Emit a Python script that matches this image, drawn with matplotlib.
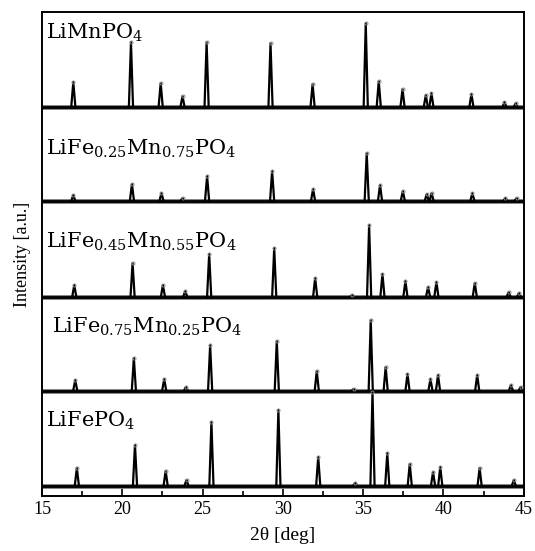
import matplotlib
matplotlib.use('Agg')
import matplotlib.pyplot as plt
import numpy as np
from matplotlib.ticker import MultipleLocator

plt.rcParams['font.family'] = 'Liberation Serif'
plt.rcParams['mathtext.fontset'] = 'dejavuserif'

# peak positions (2theta, deg) and heights (a.u.)
mn_pos = [16.95, 20.54, 22.39, 23.75, 25.25, 29.23, 31.85, 35.16, 35.97, 37.45, 38.9, 39.25, 41.74, 43.8, 44.5]
mn_h = [25, 65, 24, 11, 65, 64, 23, 84, 26, 18, 12, 14, 13, 5, 4]

fe25_pos = [16.95, 20.6, 22.44, 23.75, 25.28, 29.33, 31.88, 35.22, 36.05, 37.47, 38.96, 39.26, 41.8, 43.85, 44.55]
fe25_h = [6, 17, 8, 3, 25, 30, 12, 48, 16, 10, 7, 8, 8, 3, 3]

fe45_pos = [17.01, 20.64, 22.53, 23.92, 25.41, 29.46, 32.01, 34.3, 35.37, 36.2, 37.63, 39.04, 39.56, 41.95, 44.06, 44.7]
fe45_h = [12, 34, 12, 6, 43, 49, 19, 2, 72, 23, 16, 10, 15, 14, 5, 4]

fe75_pos = [17.07, 20.72, 22.61, 23.96, 25.47, 29.62, 32.11, 34.4, 35.47, 36.4, 37.76, 39.19, 39.66, 42.1, 44.2, 44.8]
fe75_h = [11, 33, 12, 4, 46, 50, 20, 2, 71, 24, 17, 12, 16, 16, 6, 4]

fe_pos = [17.17, 20.79, 22.7, 24.0, 25.55, 29.72, 32.2, 34.5, 35.58, 36.5, 37.9, 39.35, 39.8, 42.25, 44.38]
fe_h = [18, 41, 15, 6, 64, 76, 29, 3, 94, 33, 22, 14, 19, 18, 6]

labels = ['LiMnPO$_4$',
          'LiFe$_{0.25}$Mn$_{0.75}$PO$_4$',
          'LiFe$_{0.45}$Mn$_{0.55}$PO$_4$',
          'LiFe$_{0.75}$Mn$_{0.25}$PO$_4$',
          'LiFePO$_4$']

series = [(mn_pos, mn_h), (fe25_pos, fe25_h), (fe45_pos, fe45_h),
          (fe75_pos, fe75_h), (fe_pos, fe_h)]

# vertical offsets of the stacked patterns and label anchors
offsets = [389, 295, 199, 105, 10]
label_xy = [(15.25, 457), (15.25, 341), (15.25, 248), (15.62, 163), (15.25, 69)]

w = 0.13  # half base of a peak, deg

fig = plt.figure(figsize=(5.35, 5.51), dpi=100)
ax = fig.add_axes([0.0785, 0.1, 0.9005, 0.878])

for (pos, h), off, lab, (lx, ly) in zip(series, offsets, labels, label_xy):
    ax.plot([15, 45], [off, off], color='0.45', lw=3.4, solid_capstyle='butt', zorder=2)
    ax.plot([15, 45], [off, off], color='black', lw=2.0, solid_capstyle='butt', zorder=3)
    for p, hh in zip(pos, h):
        xs = [p - w, p, p + w]
        ys = [off, off + hh, off]
        ax.plot(xs, ys, color='black', lw=1.6, zorder=3)
        ax.plot([p], [off + hh], 'o', ms=2.2, mfc='none', mec='0.55', mew=0.7, zorder=4)
    ax.text(lx, ly, lab, family='DejaVu Serif', fontsize=15, va='baseline', ha='left', zorder=5)

ax.set_xlim(15, 45)
ax.set_ylim(0, 484)
ax.xaxis.set_major_locator(MultipleLocator(5))
ax.xaxis.set_minor_locator(MultipleLocator(2.5))
ax.tick_params(axis='x', which='major', direction='in', length=5, width=1.2, labelsize=13, pad=4)
ax.tick_params(axis='x', which='minor', direction='in', length=3.5, width=1.2)
ax.set_yticks([])
for s in ax.spines.values():
    s.set_linewidth(1.4)

ax.set_xlabel('2θ [deg]', fontsize=14, labelpad=6)
ax.set_ylabel('Intensity [a.u.]', fontsize=13, labelpad=8)

plt.savefig('out.png', dpi=100)
